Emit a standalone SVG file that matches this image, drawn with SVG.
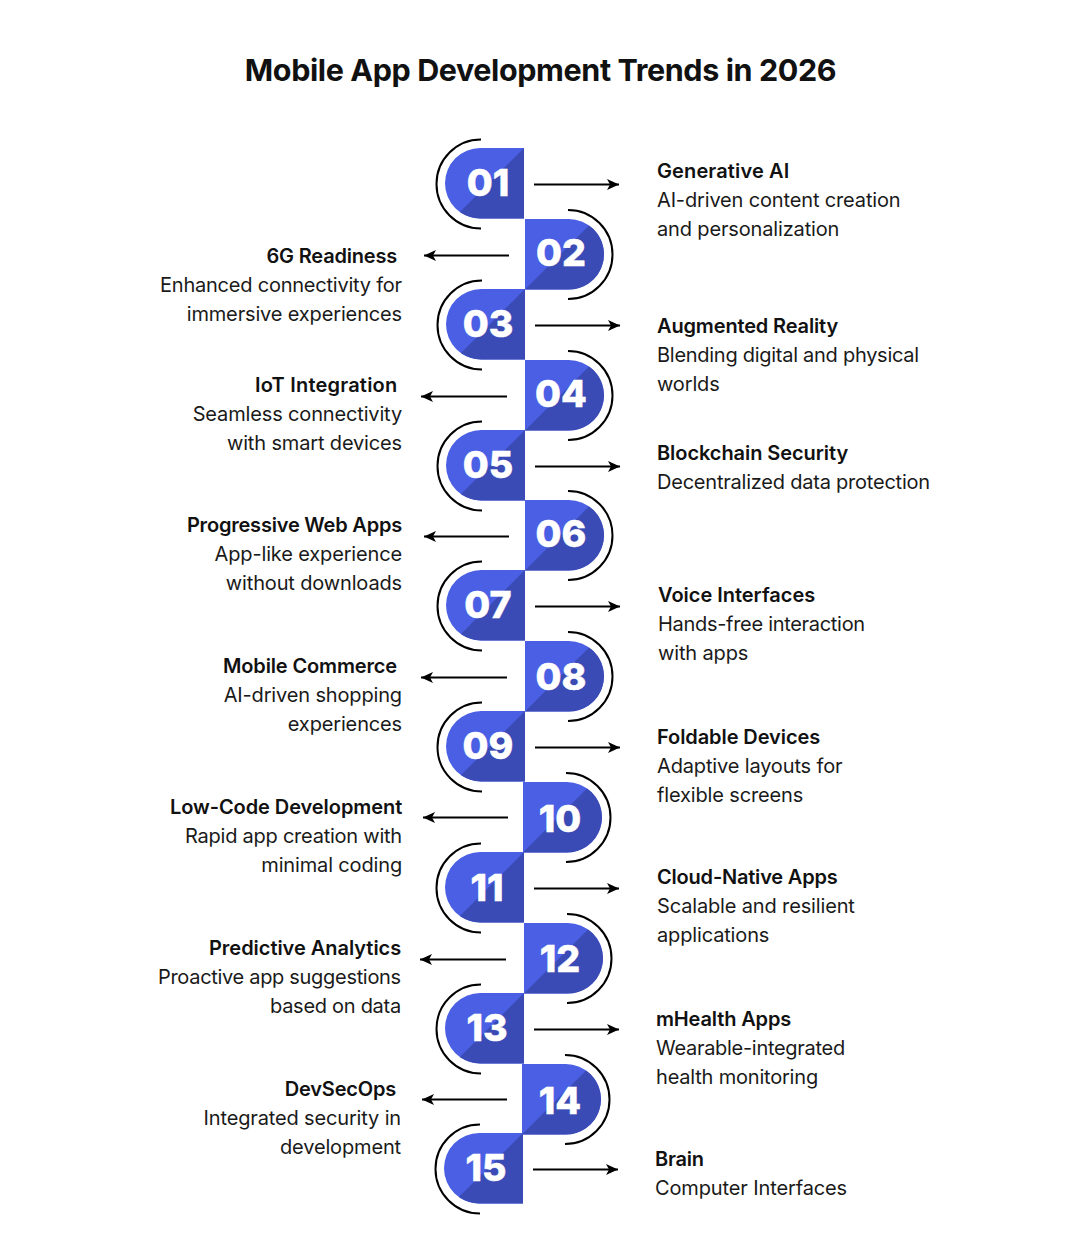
<svg xmlns="http://www.w3.org/2000/svg" width="1080" height="1250" viewBox="0 0 1080 1250">
<style>
text{font-family:"Inter","Liberation Sans",sans-serif;fill:#111}
.t{font-size:30.5px;font-weight:700;text-anchor:middle;letter-spacing:-.4px}
.h{font-size:20px;font-weight:600;letter-spacing:-.2px}
.b{font-size:20px;font-weight:400;letter-spacing:-.15px;fill:#1a1a1a}
.e{text-anchor:end}
.n{font-size:37.5px;font-weight:800;fill:#fff;text-anchor:middle;stroke:#fff;stroke-width:.5px}
.l{fill:#4a5fe3}.d{fill:#3b4bb5}
.a{fill:none;stroke:#000;stroke-width:2}
.c{stroke:#000;stroke-width:1.8;fill:none;marker-end:url(#ah)}
</style>
<defs>
<marker id="ah" markerUnits="userSpaceOnUse" markerWidth="13" markerHeight="12" refX="12" refY="5.500" orient="auto"><path d="M0 0L12 5.500L0 11L3 5.500Z" fill="#000"/></marker>
<g id="L">
<path class="l" d="M79 0V70.500H35.250A35.250 35.250 0 0 1 35.250 0Z"/>
<path class="d" d="M79 0V70.500H35.250A35.250 35.250 0 0 1 14.950 64.050Z"/>
<path class="a" d="M36 -8.500A44.500 44.500 0 0 0 36 80.500"/>
</g>
<g id="R">
<path class="l" d="M0 0V70.500H43.750A35.250 35.250 0 0 0 43.750 0Z"/>
<path class="d" d="M0 70.500H43.750A35.250 35.250 0 0 0 64.050 6.450Z"/>
<path class="a" d="M43 -9A44.500 44.500 0 0 1 43 80"/>
</g>
</defs>
<text class="t" x="540.500" y="81">Mobile App Development Trends in 2026</text>

<g id="connectors">
<path class="c" d="M534 184.500H619"/>
<path class="c" d="M509 255.500H424"/>
<path class="c" d="M535 325.500H620"/>
<path class="c" d="M507 396.500H421"/>
<path class="c" d="M535 466.500H620"/>
<path class="c" d="M509 536.500H424"/>
<path class="c" d="M535 606.500H620"/>
<path class="c" d="M507 677.500H421"/>
<path class="c" d="M535 747.500H620"/>
<path class="c" d="M508 817.500H423"/>
<path class="c" d="M534 888.500H619"/>
<path class="c" d="M506 959.500H420"/>
<path class="c" d="M534 1029.500H619"/>
<path class="c" d="M507 1099.500H422"/>
<path class="c" d="M533 1169.500H618"/>
</g>

<g id="node-01"><use href="#L" x="445" y="148"/><text class="n" x="488" y="196">01</text>
<text class="h" x="657" y="178" textLength="132">Generative AI</text><text class="b" x="657" y="207">AI-driven content creation</text><text class="b" x="657" y="236">and personalization</text></g>
<g id="node-02"><use href="#R" x="525" y="219"/><text class="n" x="561" y="266">02</text>
<text class="h e" x="397" y="263">6G Readiness</text><text class="b" x="160" y="292" textLength="242">Enhanced connectivity for</text><text class="b e" x="402" y="321">immersive experiences</text></g>
<g id="node-03"><use href="#L" x="446" y="289"/><text class="n" x="488" y="337">03</text>
<text class="h" x="657" y="333" textLength="181">Augmented Reality</text><text class="b" x="657" y="362" textLength="262">Blending digital and physical</text><text class="b" x="657" y="391">worlds</text></g>
<g id="node-04"><use href="#R" x="525" y="360"/><text class="n" x="561" y="407">04</text>
<text class="h" x="255" y="392" textLength="142">IoT Integration</text><text class="b e" x="402" y="421">Seamless connectivity</text><text class="b e" x="402" y="450">with smart devices</text></g>
<g id="node-05"><use href="#L" x="446" y="430"/><text class="n" x="488" y="478">05</text>
<text class="h" x="657" y="460" textLength="191">Blockchain Security</text><text class="b" x="657" y="489" textLength="273">Decentralized data protection</text></g>
<g id="node-06"><use href="#R" x="525" y="500"/><text class="n" x="561" y="547">06</text>
<text class="h e" x="402" y="532">Progressive Web Apps</text><text class="b e" x="402" y="561">App-like experience</text><text class="b e" x="402" y="590">without downloads</text></g>
<g id="node-07"><use href="#L" x="446" y="570"/><text class="n" x="488" y="618">07</text>
<text class="h" x="658" y="602" textLength="157">Voice Interfaces</text><text class="b" x="658" y="631" textLength="207">Hands-free interaction</text><text class="b" x="658" y="660">with apps</text></g>
<g id="node-08"><use href="#R" x="525" y="641"/><text class="n" x="561" y="690">08</text>
<text class="h" x="223" y="673" textLength="174">Mobile Commerce</text><text class="b e" x="402" y="702">AI-driven shopping</text><text class="b e" x="402" y="731">experiences</text></g>
<g id="node-09"><use href="#L" x="446" y="711"/><text class="n" x="488" y="759">09</text>
<text class="h" x="657" y="744" textLength="163">Foldable Devices</text><text class="b" x="657" y="773">Adaptive layouts for</text><text class="b" x="657" y="802">flexible screens</text></g>
<g id="node-10"><use href="#R" x="523" y="782"/><text class="n" x="560" y="832">10</text>
<text class="h" x="170" y="814" textLength="232">Low-Code Development</text><text class="b" x="185" y="843" textLength="217">Rapid app creation with</text><text class="b e" x="402" y="872">minimal coding</text></g>
<g id="node-11"><use href="#L" x="445" y="852"/><text class="n" x="487" y="901">11</text>
<text class="h" x="657" y="884">Cloud-Native Apps</text><text class="b" x="657" y="913">Scalable and resilient</text><text class="b" x="657" y="942">applications</text></g>
<g id="node-12"><use href="#R" x="524" y="923"/><text class="n" x="560" y="972">12</text>
<text class="h" x="209" y="955" textLength="192">Predictive Analytics</text><text class="b" x="158" y="984" textLength="243">Proactive app suggestions</text><text class="b" x="270" y="1013" textLength="131">based on data</text></g>
<g id="node-13"><use href="#L" x="445" y="993"/><text class="n" x="487" y="1041">13</text>
<text class="h" x="656" y="1026" textLength="135">mHealth Apps</text><text class="b" x="656" y="1055" textLength="189">Wearable-integrated</text><text class="b" x="656" y="1084" textLength="162">health monitoring</text></g>
<g id="node-14"><use href="#R" x="522" y="1064"/><text class="n" x="560" y="1114">14</text>
<text class="h e" x="396" y="1096">DevSecOps</text><text class="b e" x="401" y="1125">Integrated security in</text><text class="b e" x="401" y="1154">development</text></g>
<g id="node-15"><use href="#L" x="444" y="1133"/><text class="n" x="486" y="1181">15</text>
<text class="h" x="655" y="1166">Brain</text><text class="b" x="655" y="1195" textLength="192">Computer Interfaces</text></g>
</svg>
